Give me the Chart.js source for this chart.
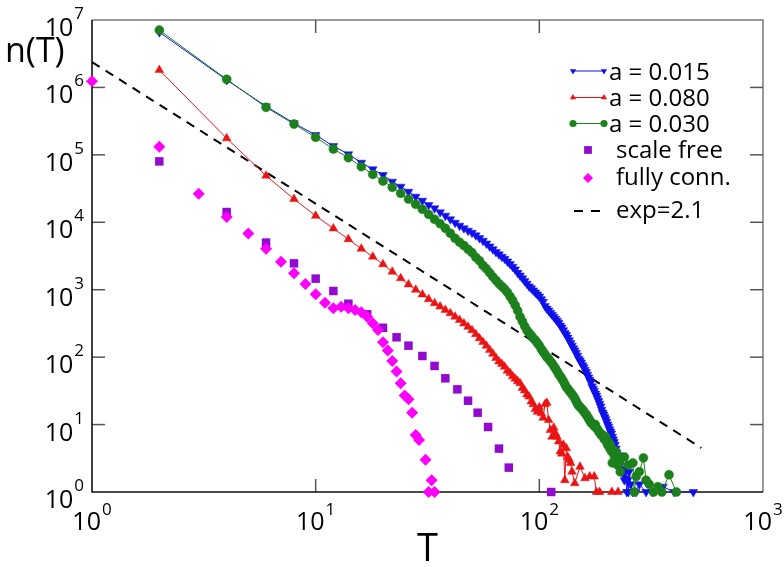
<!DOCTYPE html>
<html><head><meta charset="utf-8">
<script src="https://cdn.jsdelivr.net/npm/chart.js@4.4.0/dist/chart.umd.min.js"></script>
<style>html,body{margin:0;padding:0;background:#fff}#wrap{width:784px;height:567px}</style>
</head><body><div id="wrap"><canvas id="c" width="784" height="567"></canvas></div>
<script>
// ---------- data ----------
const xTickValues = [1, 10, 100, 1000];
const yTickValues = [1, 10, 100, 1e3, 1e4, 1e5, 1e6, 1e7];
const xTitle = 'T';
const yTitle = 'n(T)';

const labels = ['a = 0.015', 'a = 0.080', 'a = 0.030', 'scale free', 'fully conn.', 'exp=2.1'];

const T_a015 = [2,4,6,8,10,12,14,16,18,20,22,24,26,28,30,32,34,36,38,40,42,44,46,48,50,52,54,56,58,60,62,64,66,68,70,72,74,76,78,80,82,84,86,88,90,92,94,96,98,100,102,104,106,108,110,112,114,116,118,120,122,124,126,128,130,132,134,136,138,140,142,144,146,148,150,152,154,156,158,160,162,164,166,168,170,172,174,176,178,180,182,184,186,188,190,192,194,196,198,200,202,204,206,208,210,212,214,216,218,220,222,224,226,228,230,232,234,236,238,240,242,244,246,248,250,252,256,262,270,280,300,320,357,400,488];
const N_a015 = [6.6e6,1.29e6,5.25e5,2.95e5,1.97e5,1.35e5,1.02e5,7.66e4,6.11e4,5.02e4,4.0e4,3.37e4,2.84e4,2.40e4,2.09e4,1.80e4,1.61e4,1.41e4,1.25e4,1.11e4,9860,8910,8130,7500,7000,6400,5830,5330,4830,4390,3980,3630,3350,3090,2880,2630,2400,2190,2000,1780,1620,1480,1350,1230,1120,1050,977,912,851,794,724,661,575,525,490,457,427,398,372,347,324,295,275,251,229,214,195,178,162,148,135,126,115,105,95,89,83,76,71,65,60,55,50,46,42,37,34,31.6,28.8,26.9,24.5,22.4,20.4,18.6,16.6,15.1,14.1,12.9,12,11,10,9.3,8.5,7.9,7.4,6.6,6,5.5,5,4.4,3.8,3.2,3.5,2.8,2.5,3,2,2.2,2,1.5,2,1.6,1,1.5,1,2,1.3,1,1,1.3,1,1,1.2,1,1];

const T_a080 = [2,4,6,8,10,12,14,16,18,20,22,24,26,28,30,32,34,36,38,40,42,44,46,48,50,52,54,56,58,60,62,64,66,68,70,72,74,76,78,80,82,84,86,88,90,92,94,96,98,100,102,104,106,108,110,112,114,116,118,120,122,124,126,128,130,132,134,136,138,140,144,152,160,168,176,180,186,211,225];
const N_a080 = [1.81e6,1.76e5,4.9e4,2.21e4,1.25e4,8100,5600,4060,3090,2380,1850,1480,1200,1000,851,724,631,562,501,447,398,355,316,282,251,219,190,168,147,128,112,97,86,79,72,63,58,52,48,44,41,35,32,28,26,22,20,17,15.5,18,14.7,12.6,20,21,11.7,8.3,6.6,9,7.4,6.6,5.6,4,3.7,5,1.5,4.45,3.3,3,2.7,2,1.35,2.37,1.6,1.7,1.7,1,1,1,1];

const T_a030 = [2,4,6,8,10,12,14,16,18,20,22,24,26,28,30,32,34,36,38,40,42,44,46,48,50,52,54,56,58,60,62,64,66,68,70,72,74,76,78,80,82,84,86,88,90,92,94,96,98,100,102,104,106,108,110,112,114,116,118,120,122,124,126,128,130,132,134,136,138,140,142,144,146,148,150,152,154,156,158,160,162,164,166,168,170,172,174,176,178,180,182,184,186,188,190,192,194,196,198,200,202,204,206,208,210,212,214,216,218,220,222,224,226,228,230,240,250,262,266,271,280,292,300,310,324,339,353,380,410];
const N_a030 = [7.08e6,1.32e6,5.07e5,2.86e5,1.82e5,1.22e5,9.08e4,6.68e4,5.13e4,4.09e4,3.30e4,2.69e4,2.21e4,1.85e4,1.56e4,1.31e4,1.11e4,9550,8150,6870,5780,5070,4520,3980,3550,3020,2690,2290,2040,1780,1550,1380,1230,1120,1020,912,794,692,589,490,398,339,288,251,229,209,191,178,162,148,132,120,110,100,95,87,81,74,68,62,56,52,48,44,40,36,34,31.6,30,28,26.3,24.5,22.4,20.4,19,18.2,17.4,16.6,15.8,14.8,14.1,13.2,12.3,11.5,10.7,10.5,10,9.5,10,8.9,8.5,8,7.6,7.2,6.9,7,6.3,6,6.6,5.5,5,5.5,4.5,5,4,2.7,4.2,3.5,3,4,3.2,2.5,3.3,2.8,2,3.3,2.5,2.7,1,1.7,2,3.2,1.5,1.3,1,1.2,1,1.8,1];

const T_scaleFree = [2,4,6,8,10,12,14,17,20,23,26,30,34,38,43,48,53,59,66,73,113];
const N_scaleFree = [8.0e4,1.42e4,5000,2460,1460,957,620,432,273,197,148,104,74,48.5,33.3,22.6,15,9.2,4.4,2.3,1];

const T_fully = [1,2,3,4,5,6,7,8,9,10,11,12,13,14,15,16,17,18,19,20,21,22,23,24,25,26,27,28,29,31,32,33,34];
const N_fully = [1.24e6,1.32e5,2.65e4,1.2e4,6800,4060,2600,1750,1220,860,640,530,560,530,500,462,398,317,253,166,126,88,61,41,27,23.7,15,7,5.9,3,1,1.5,1];

const T_fit = [1, 530];
const N_fit = [2.38e6, 4.5];

// ---------- chart ----------
const FONT = '"Open Sans", "DejaVu Sans", sans-serif';
const BLUE = 'rgb(16,16,235)', RED = 'rgb(235,20,20)', GREEN = 'rgb(28,128,28)';
const PURPLE = 'rgb(145,10,205)', MAGENTA = 'rgb(255,0,255)', BLACK = '#000';

function pts(xs, ys) { return xs.map((x, i) => ({ x: x, y: ys[i] })); }

const datasets = [
  { label: labels[0], data: pts(T_a015, N_a015), borderColor: BLUE, backgroundColor: BLUE,
    pointStyle: 'triangle', pointRotation: 180, pointRadius: 5, pointBorderWidth: 0.5,
    showLine: true, borderWidth: 1, order: 2, clip: false },
  { label: labels[1], data: pts(T_a080, N_a080), borderColor: RED, backgroundColor: RED,
    pointStyle: 'triangle', pointRotation: 0, pointRadius: 5, pointBorderWidth: 0.5,
    showLine: true, borderWidth: 1, order: 3, clip: false },
  { label: labels[2], data: pts(T_a030, N_a030), borderColor: GREEN, backgroundColor: GREEN,
    pointStyle: 'circle', pointRadius: 4.5, pointBorderWidth: 0.5,
    showLine: true, borderWidth: 1, order: 1, clip: false },
  { label: labels[3], data: pts(T_scaleFree, N_scaleFree), borderColor: PURPLE, backgroundColor: PURPLE,
    pointStyle: 'rect', pointRadius: 6, pointBorderWidth: 0,
    showLine: false, order: 5, clip: false },
  { label: labels[4], data: pts(T_fully, N_fully), borderColor: MAGENTA, backgroundColor: MAGENTA,
    pointStyle: 'rectRot', pointRadius: 6, pointBorderWidth: 0,
    showLine: false, order: 4, clip: false },
  { label: labels[5], data: pts(T_fit, N_fit), borderColor: BLACK, backgroundColor: BLACK,
    pointRadius: 0, showLine: true, borderWidth: 2, borderDash: [9, 7], order: 6, clip: false }
];

function drawMarker(ctx, style, rot, r, x, y, color) {
  ctx.save();
  ctx.fillStyle = color;
  ctx.beginPath();
  if (style === 'circle') {
    ctx.arc(x, y, r, 0, Math.PI * 2);
  } else if (style === 'rect') {
    const s = r * Math.SQRT1_2;
    ctx.rect(x - s, y - s, 2 * s, 2 * s);
  } else if (style === 'rectRot') {
    ctx.moveTo(x, y - r); ctx.lineTo(x + r, y); ctx.lineTo(x, y + r); ctx.lineTo(x - r, y);
    ctx.closePath();
  } else if (style === 'triangle') {
    let a = (rot || 0) * Math.PI / 180;
    for (let k = 0; k < 3; k++) {
      const px = x + Math.sin(a) * r, py = y - Math.cos(a) * r;
      if (k === 0) ctx.moveTo(px, py); else ctx.lineTo(px, py);
      a += 2 * Math.PI / 3;
    }
    ctx.closePath();
  }
  ctx.fill();
  ctx.restore();
}

function drawPow(ctx, exp, x, baseY, supY, align) {
  ctx.save();
  ctx.fillStyle = '#000';
  ctx.textBaseline = 'alphabetic';
  ctx.textAlign = 'left';
  ctx.font = '25px ' + FONT;
  const w1 = ctx.measureText('10').width;
  ctx.font = '17px ' + FONT;
  const w2 = ctx.measureText(exp).width;
  const gap = 1;
  const total = w1 + gap + w2;
  let start = align === 'right' ? x - total : x - total / 2;
  ctx.font = '25px ' + FONT;
  ctx.fillText('10', start, baseY);
  ctx.font = '17px ' + FONT;
  ctx.fillText(exp, start + w1 + gap, supY);
  ctx.restore();
}

const framePlugin = {
  id: 'frame',
  beforeDatasetsDraw(chart) {
    const { ctx, chartArea: a, scales } = chart;
    ctx.save();
    // top & right (grey)
    ctx.lineWidth = 1.5;
    ctx.strokeStyle = '#7a7a7a';
    ctx.beginPath();
    ctx.moveTo(a.left, a.top); ctx.lineTo(a.right, a.top); ctx.lineTo(a.right, a.bottom);
    ctx.stroke();
    // ticks
    ctx.strokeStyle = '#555';
    ctx.lineWidth = 1.5;
    const L = 13;
    xTickValues.forEach(v => {
      const px = scales.x.getPixelForValue(v);
      if (px <= a.left + 1 || px >= a.right - 1) return;
      ctx.beginPath(); ctx.moveTo(px, a.bottom); ctx.lineTo(px, a.bottom - L); ctx.stroke();
      ctx.beginPath(); ctx.moveTo(px, a.top); ctx.lineTo(px, a.top + L); ctx.stroke();
    });
    yTickValues.forEach(v => {
      const py = scales.y.getPixelForValue(v);
      if (py <= a.top + 1 || py >= a.bottom - 1) return;
      ctx.beginPath(); ctx.moveTo(a.left, py); ctx.lineTo(a.left + L, py); ctx.stroke();
      ctx.beginPath(); ctx.moveTo(a.right, py); ctx.lineTo(a.right - L, py); ctx.stroke();
    });
    // left & bottom (black)
    ctx.strokeStyle = '#111';
    ctx.lineWidth = 1.6;
    ctx.beginPath();
    ctx.moveTo(a.left, a.top); ctx.lineTo(a.left, a.bottom); ctx.lineTo(a.right, a.bottom);
    ctx.stroke();
    ctx.restore();
  },
  afterDraw(chart) {
    const { ctx, chartArea: a, scales } = chart;
    // tick labels
    yTickValues.forEach(v => {
      const py = scales.y.getPixelForValue(v);
      drawPow(ctx, String(Math.round(Math.log10(v))), a.left - 8, py + 16, py - 1, 'right');
    });
    xTickValues.forEach(v => {
      const px = scales.x.getPixelForValue(v);
      drawPow(ctx, String(Math.round(Math.log10(v))), px, 530, 515, 'center');
    });
    // axis titles
    ctx.save();
    ctx.fillStyle = '#000';
    ctx.textBaseline = 'alphabetic';
    ctx.font = '34px ' + FONT;
    ctx.textAlign = 'left';
    ctx.fillText(yTitle, 5, 62);
    ctx.font = '38px ' + FONT;
    ctx.textAlign = 'center';
    ctx.fillText(xTitle, (a.left + a.right) / 2, 561);
    ctx.restore();

    // legend
    const rows = [71, 97.5, 123.5, 150, 178, 211];
    const bases = [80, 106, 132, 158, 185, 218];
    ctx.save();
    chart.data.datasets.forEach((ds, i) => {
      const y = rows[i];
      ctx.fillStyle = '#000';
      ctx.font = '24px ' + FONT;
      ctx.textAlign = 'left';
      ctx.textBaseline = 'alphabetic';
      if (ds.showLine && ds.pointRadius > 0) {
        ctx.strokeStyle = ds.borderColor; ctx.lineWidth = 1;
        ctx.beginPath(); ctx.moveTo(573, y); ctx.lineTo(604, y); ctx.stroke();
        drawMarker(ctx, ds.pointStyle, ds.pointRotation, 3.6, 573, y, ds.backgroundColor);
        drawMarker(ctx, ds.pointStyle, ds.pointRotation, 3.6, 604, y, ds.backgroundColor);
        ctx.fillStyle = '#000';
        ctx.fillText(ds.label, 609, bases[i]);
      } else if (ds.showLine) {
        ctx.strokeStyle = ds.borderColor; ctx.lineWidth = 2;
        ctx.setLineDash([9, 8]);
        ctx.beginPath(); ctx.moveTo(574, y); ctx.lineTo(601, y); ctx.stroke();
        ctx.setLineDash([]);
        ctx.fillText(ds.label, 616, bases[i]);
      } else {
        drawMarker(ctx, ds.pointStyle, 0, ds.pointStyle === 'rect' ? 5.5 : 5, 588, y, ds.backgroundColor);
        ctx.fillStyle = '#000';
        ctx.fillText(ds.label, 616, bases[i]);
      }
    });
    ctx.restore();
  }
};

new Chart(document.getElementById('c'), {
  type: 'scatter',
  data: { datasets: datasets },
  options: {
    responsive: false,
    animation: false,
    events: [],
    layout: { padding: { top: 20, right: 21, left: 0, bottom: 0 } },
    plugins: { legend: { display: false }, tooltip: { enabled: false } },
    scales: {
      x: {
        type: 'logarithmic', min: 1, max: 1000,
        grid: { display: false }, border: { display: false },
        ticks: { display: false },
        afterFit(s) { s.height = 75; }
      },
      y: {
        type: 'logarithmic', min: 1, max: 1e7,
        grid: { display: false }, border: { display: false },
        ticks: { display: false },
        afterFit(s) { s.width = 92; }
      }
    }
  },
  plugins: [framePlugin]
});
</script>
</body></html>
